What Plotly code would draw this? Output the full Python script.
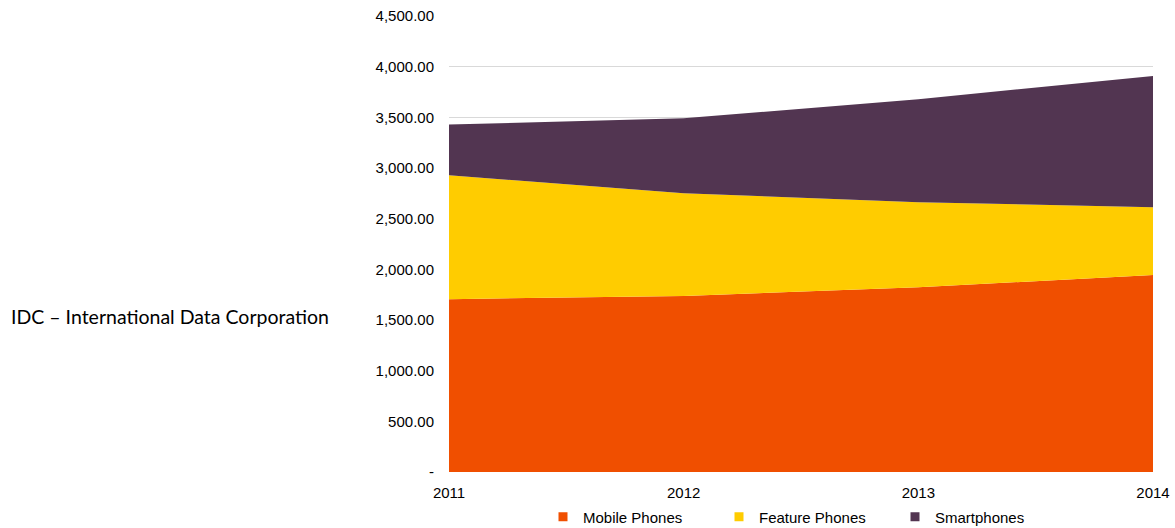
import plotly.graph_objects as go

years = [2011, 2012, 2013, 2014]
mobile_phones = [1706, 1736, 1824, 1943]
feature_phones = [1223, 1015, 839, 670]
smartphones = [500, 740, 1016, 1295]

series_names = ["Mobile Phones", "Feature Phones", "Smartphones"]
series_values = [mobile_phones, feature_phones, smartphones]
colors = ["#F04F00", "#FFCC00", "#523551"]

y_tick_vals = [0, 500, 1000, 1500, 2000, 2500, 3000, 3500, 4000, 4500]
y_tick_text = ["-", "500.00", "1,000.00", "1,500.00", "2,000.00", "2,500.00",
               "3,000.00", "3,500.00", "4,000.00", "4,500.00"]
x_tick_text = ["2011", "2012", "2013", "2014"]

fig = go.Figure()
for name, vals, col in zip(series_names, series_values, colors):
    fig.add_trace(go.Scatter(
        x=years, y=vals, name=name, stackgroup="one", mode="none",
        fillcolor=col, line=dict(width=0), showlegend=False,
        hoverinfo="x+y+name"))
# legend entries with square markers
for name, col in zip(series_names, colors):
    fig.add_trace(go.Scatter(
        x=[None], y=[None], name=name, mode="markers",
        marker=dict(symbol="square", size=9, color=col), showlegend=True))

font_family = "Liberation Sans, Arial, sans-serif"
fig.update_layout(
    width=1175, height=528,
    margin=dict(l=449, r=22, t=16, b=56, autoexpand=False),
    paper_bgcolor="white", plot_bgcolor="white",
    font=dict(family=font_family, size=15, color="#000000"),
    xaxis=dict(range=[2011, 2014], tickvals=years, ticktext=x_tick_text,
               showgrid=False, zeroline=False, showline=False, ticks="",
               ticklabelstandoff=10,
               tickfont=dict(size=15, family=font_family, color="#000000"),
               fixedrange=True),
    yaxis=dict(range=[0, 4500], tickvals=y_tick_vals, ticktext=y_tick_text,
               showgrid=True, gridcolor="#D9D9D9", gridwidth=1,
               zeroline=False, showline=False, ticks="",
               ticklabelstandoff=14,
               tickfont=dict(size=15, family=font_family, color="#000000"),
               fixedrange=True),
    legend=dict(orientation="h", xref="container", yref="container",
                x=(543) / 1175, xanchor="left", y=1 - 517 / 528,
                yanchor="middle", traceorder="normal",
                font=dict(size=15, family=font_family),
                bgcolor="rgba(0,0,0,0)", entrywidth=131,
                entrywidthmode="pixels"),
    showlegend=True,
)
fig.add_annotation(
    text="IDC \u2013 International Data Corporation",
    xref="paper", yref="paper", x=(9 - 449) / 704, y=(472 - 316) / 456,
    xanchor="left", yanchor="middle", showarrow=False,
    font=dict(family="Lato, Carlito, Calibri, sans-serif", size=19.5, color="#000000"))

fig.write_html("out.html")
